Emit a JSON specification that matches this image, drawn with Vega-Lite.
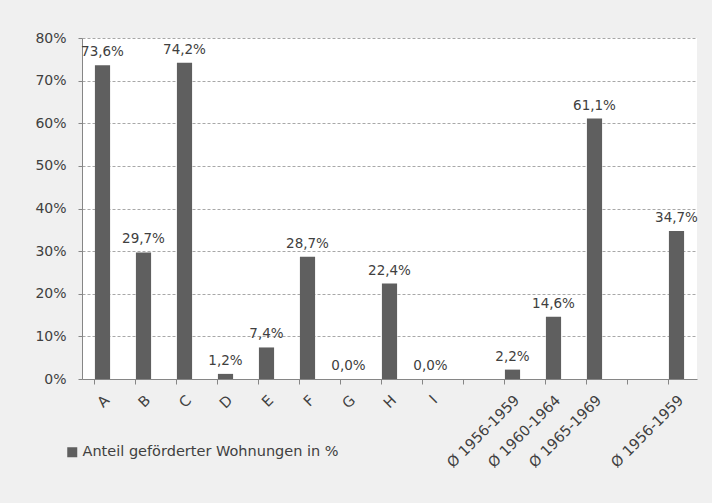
{
  "$schema": "https://vega.github.io/schema/vega-lite/v6.json",
  "autosize": {"type": "none"},
  "width": 615,
  "height": 341,
  "padding": {"left": 82, "top": 38, "right": 15, "bottom": 124},
  "background": "#f0f0f0",
  "config": {
    "locale": {"number": {"decimal": ",", "thousands": ".", "grouping": [3], "currency": ["", " €"]}},
    "font": "DejaVu Sans",
    "view": {"fill": "white", "stroke": null}
  },
  "data": {
    "values": [
      {"k": "A", "v": 0.736, "s": "Anteil geförderter Wohnungen in %"},
      {"k": "B", "v": 0.297, "s": "Anteil geförderter Wohnungen in %"},
      {"k": "C", "v": 0.742, "s": "Anteil geförderter Wohnungen in %"},
      {"k": "D", "v": 0.012, "s": "Anteil geförderter Wohnungen in %"},
      {"k": "E", "v": 0.074, "s": "Anteil geförderter Wohnungen in %"},
      {"k": "F", "v": 0.287, "s": "Anteil geförderter Wohnungen in %"},
      {"k": "G", "v": 0.0, "s": "Anteil geförderter Wohnungen in %"},
      {"k": "H", "v": 0.224, "s": "Anteil geförderter Wohnungen in %"},
      {"k": "I", "v": 0.0, "s": "Anteil geförderter Wohnungen in %"},
      {"k": "Ø 1956-1959#1", "v": 0.022, "s": "Anteil geförderter Wohnungen in %"},
      {"k": "Ø 1960-1964#1", "v": 0.146, "s": "Anteil geförderter Wohnungen in %"},
      {"k": "Ø 1965-1969#1", "v": 0.611, "s": "Anteil geförderter Wohnungen in %"},
      {"k": "Ø 1956-1959#2", "v": 0.347, "s": "Anteil geförderter Wohnungen in %"}
    ]
  },
  "encoding": {
    "x": {
      "field": "k",
      "type": "nominal",
      "sort": null,
      "scale": {
        "domain": ["A", "B", "C", "D", "E", "F", "G", "H", "I", "gap1", "Ø 1956-1959#1", "Ø 1960-1964#1", "Ø 1965-1969#1", "gap2", "Ø 1956-1959#2"],
        "paddingInner": 0.63,
        "paddingOuter": 0.315
      }
    },
    "y": {
      "field": "v",
      "type": "quantitative",
      "scale": {"domain": [0, 0.8], "nice": false}
    }
  },
  "layer": [
    {
      "mark": {"type": "bar", "color": "#5f5f5f"},
      "encoding": {
        "x": {
          "field": "k",
          "type": "nominal",
          "axis": {
            "orient": "bottom",
            "title": null,
            "labels": false,
            "ticks": true,
            "bandPosition": 0,
            "tickSize": 5,
            "tickColor": "#868686",
            "domainColor": "#868686",
            "grid": false
          }
        },
        "y": {
          "field": "v",
          "type": "quantitative",
          "axis": {
            "title": null,
            "format": ".0%",
            "values": [0, 0.1, 0.2, 0.3, 0.4, 0.5, 0.6, 0.7, 0.8],
            "grid": true,
            "gridDash": [3, 2],
            "gridColor": "#a8a8a8",
            "domainColor": "#868686",
            "tickColor": "#868686",
            "tickSize": 4,
            "labelPadding": 12,
            "labelFontSize": 14,
            "labelColor": "#404040",
            "labelFont": "DejaVu Sans"
          }
        },
        "color": {
          "field": "s",
          "type": "nominal",
          "scale": {"range": ["#5f5f5f"]},
          "legend": {
            "title": null,
            "orient": "none",
            "legendX": -17,
            "legendY": 407,
            "symbolType": "square",
            "symbolSize": 100,
            "symbolStrokeWidth": 0,
            "labelFontSize": 14.5,
            "labelColor": "#404040",
            "labelFont": "DejaVu Sans",
            "labelOffset": 3,
            "labelLimit": 400
          }
        }
      }
    },
    {
      "mark": {"type": "text", "baseline": "bottom", "dy": -6, "fontSize": 13.5, "color": "#404040", "font": "DejaVu Sans"},
      "encoding": {
        "x": {
          "field": "k",
          "type": "nominal",
          "axis": {
            "orient": "bottom",
            "title": null,
            "ticks": false,
            "domain": false,
            "labelAngle": -45,
            "labelPadding": 14,
            "labelFontSize": 14.5,
            "labelColor": "#404040",
            "labelFont": "DejaVu Sans",
            "labelExpr": "indexof(datum.value, 'gap') == 0 ? '' : replace(datum.value, /#\\d/, '')"
          }
        },
        "text": {"field": "v", "type": "quantitative", "format": ".1%"}
      }
    }
  ],
  "resolve": {"axis": {"x": "independent"}}
}
